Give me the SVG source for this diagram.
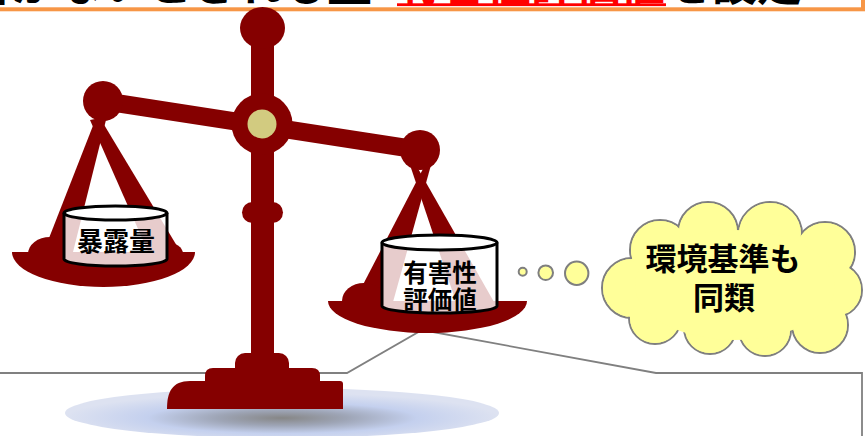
<svg xmlns="http://www.w3.org/2000/svg" width="865" height="436" viewBox="0 0 865 436">
  <style>
    .iron { fill: #850000; }
    .leg { fill: #850000; }
    .can { fill: #ffffff; fill-opacity: 0.8; stroke: #000000; stroke-width: 3; }
    .canTop { fill: #ffffff; stroke: #000000; stroke-width: 3; }
    .label { font-family: "Noto Sans CJK JP", "Noto Sans", sans-serif; font-weight: bold; fill: #000000; text-anchor: middle; }
    .head { font-family: "Noto Sans CJK JP", "Noto Sans", sans-serif; font-weight: bold; font-size: 45px; }
    .cloudEdge { fill: #FFFF99; stroke: #7F7F7F; stroke-width: 2; }
    .cloudFill { fill: #FFFF99; }
    .callout { fill: none; stroke: #808080; stroke-width: 1.8; }
  </style>
  <defs>
    <radialGradient id="shadowGrad" cx="0.5" cy="0.6" r="0.5">
      <stop offset="0" stop-color="#868686"/>
      <stop offset="0.3" stop-color="#9EA5B6"/>
      <stop offset="0.62" stop-color="#C4D0EE"/>
      <stop offset="1" stop-color="#DDE2F1"/>
    </radialGradient>
  </defs>

  <rect x="0" y="0" width="865" height="436" fill="#ffffff"/>

  <!-- heading strip, cut off at the top edge -->
  <g id="heading">
    <rect x="-10" y="-60" width="873" height="69.3" fill="#ffffff" stroke="#F79646" stroke-width="4"/>
    <text class="head" y="1"><tspan x="372" text-anchor="end" fill="#000000">健康への悪影響がないとされる量</tspan></text>
    <text class="head" y="1"><tspan x="397" fill="#FF0000" textLength="268" lengthAdjust="spacingAndGlyphs">有害性評価値</tspan><tspan x="667" fill="#000000">を設定</tspan></text>
    <rect x="397" y="3.3" width="269" height="2.8" fill="#FF0000"/>
  </g>

  <!-- callout frame pointing at the right pan -->
  <g id="connectors">
    <path class="callout" d="M-5,373 L347,373 L422,330 L656,373 L862,373 L862,440"/>
  </g>

  <!-- floor shadow -->
  <g id="shadow">
    <ellipse cx="282" cy="413" rx="217" ry="25" fill="url(#shadowGrad)"/>
  </g>

  <!-- balance scale -->
  <g id="scale">
    <!-- stand -->
    <rect class="iron" x="251" y="28" width="23" height="335"/>
    <rect class="iron" x="235" y="353" width="54" height="30" rx="10"/>
    <path class="iron" d="M205,383 L205,376 Q205,368 213,368 L312,368 Q320,368 320,376 L320,383 Z"/>
    <path class="iron" d="M167,409 C167,392 172,381 190,381 L340,381 Q343,381 343,384 L343,409 Z"/>
    <ellipse class="iron" cx="262.5" cy="28" rx="22.5" ry="21"/>
    <rect class="iron" x="242" y="202" width="41" height="21" rx="10.5"/>
    <!-- beam -->
    <line x1="103" y1="101" x2="420" y2="150" stroke="#850000" stroke-width="18"/>
    <circle class="iron" cx="262" cy="124" r="30.5"/>
    <circle cx="262" cy="124" r="14.5" fill="#D2CB80"/>
    <circle class="iron" cx="103" cy="101" r="20"/>
    <circle class="iron" cx="420" cy="150" r="20"/>
  </g>

  <!-- left pan -->
  <g id="pan-left">
    <polygon class="leg" points="96,118 106,120 72,256 42,256"/>
    <polygon class="leg" points="90,120 100,118 183,256 150,256"/>
    <ellipse class="iron" cx="50" cy="254" rx="22" ry="17"/>
    <ellipse class="iron" cx="166" cy="254" rx="17" ry="12"/>
    <path class="iron" d="M12,252 A91.5,35 0 0 0 195,252 Z"/>
  </g>

  <!-- right pan -->
  <g id="pan-right">
    <polygon class="leg" points="425,165 431,165 393,302 354,302"/>
    <polygon class="leg" points="410,165 416,165 494,302 456,302"/>
    <ellipse class="iron" cx="364" cy="301" rx="22" ry="18"/>
    <path class="iron" d="M328,301 A99.5,32 0 0 0 527,301 Z"/>
  </g>

  <!-- exposure container -->
  <g id="exposure">
    <path class="can" d="M64,213 L64,259 A51.5,7 0 0 0 167,259 L167,213"/>
    <ellipse class="canTop" cx="115.5" cy="213" rx="51.5" ry="7"/>
    <text class="label" x="116" y="251" font-size="26">暴露量</text>
  </g>

  <!-- hazard value container -->
  <g id="hazard-value">
    <path class="can" d="M382,242.5 L382,306 A57.5,7 0 0 0 497,306 L497,242.5"/>
    <ellipse class="canTop" cx="439.5" cy="242.5" rx="57.5" ry="7.5"/>
    <text class="label" x="440" y="282" font-size="24.5">有害性</text>
    <text class="label" x="440" y="309" font-size="24.5">評価値</text>
  </g>

  <!-- thought bubbles -->
  <g id="bubbles">
    <circle class="cloudEdge" cx="522.7" cy="271.7" r="4"/>
    <circle class="cloudEdge" cx="545.7" cy="272.7" r="7.3"/>
    <circle class="cloudEdge" cx="576.7" cy="273.3" r="11.7"/>
  </g>

  <!-- cloud: outlined lobes, then the same lobes unstroked to clear inner edges -->
  <g id="cloud">
    <g class="cloudEdge">
      <circle cx="632" cy="288" r="30"/>
      <circle cx="660" cy="250" r="30"/>
      <circle cx="708" cy="232" r="30"/>
      <circle cx="770" cy="234" r="32"/>
      <circle cx="825" cy="252" r="30"/>
      <circle cx="835" cy="290" r="27"/>
      <circle cx="820" cy="325" r="28"/>
      <circle cx="765" cy="330" r="26"/>
      <circle cx="710" cy="328" r="26"/>
      <circle cx="655" cy="318" r="26"/>
    </g>
    <g class="cloudFill">
      <circle cx="632" cy="288" r="29"/>
      <circle cx="660" cy="250" r="29"/>
      <circle cx="708" cy="232" r="29"/>
      <circle cx="770" cy="234" r="31"/>
      <circle cx="825" cy="252" r="29"/>
      <circle cx="835" cy="290" r="26"/>
      <circle cx="820" cy="325" r="27"/>
      <circle cx="765" cy="330" r="25"/>
      <circle cx="710" cy="328" r="25"/>
      <circle cx="655" cy="318" r="25"/>
      <ellipse cx="735" cy="285" rx="100" ry="55"/>
    </g>
    <text class="label" x="723" y="270" font-size="31">環境基準も</text>
    <text class="label" x="724" y="309" font-size="31">同類</text>
  </g>
</svg>
